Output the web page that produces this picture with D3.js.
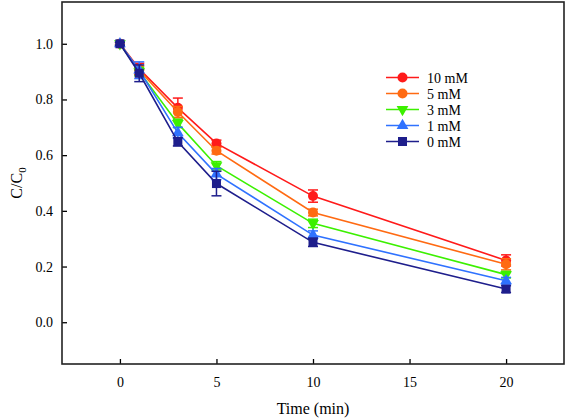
<!DOCTYPE html>
<html>
<head>
<meta charset="utf-8">
<script src="https://cdn.jsdelivr.net/npm/d3@7"></script>
<style>
  body { margin: 0; background: #fff; }
  svg { display: block; }
  text { font-family: "Liberation Serif", "Times New Roman", serif; fill: #000; }
</style>
</head>
<body>
<svg id="chart" width="567" height="420"></svg>
<script>
const times = [0, 1, 3, 5, 10, 20];
const seriesNames = ["10 mM", "5 mM", "3 mM", "1 mM", "0 mM"];
const seriesColors = ["#ff1a1a", "#ff6a12", "#3cf000", "#2f72ff", "#1e1e8c"];
const seriesMarkers = ["circle", "circle", "triangleDown", "triangleUp", "square"];
const values10 = [1.0, 0.91, 0.77, 0.642, 0.453, 0.222];
const values5  = [1.0, 0.905, 0.755, 0.616, 0.394, 0.208];
const values3  = [1.0, 0.90, 0.714, 0.562, 0.355, 0.171];
const values1  = [1.0, 0.905, 0.68, 0.532, 0.313, 0.149];
const values0  = [1.0, 0.894, 0.648, 0.498, 0.287, 0.119];
const err10 = [0.005, 0.02, 0.035, 0.012, 0.022, 0.02];
const err5  = [0.005, 0.015, 0.02, 0.012, 0.012, 0.02];
const err3  = [0.005, 0.015, 0.015, 0.015, 0.015, 0.012];
const err1  = [0.005, 0.03, 0.02, 0.02, 0.015, 0.012];
const err0  = [0.005, 0.03, 0.015, 0.044, 0.015, 0.012];
const xTicks = [0, 5, 10, 15, 20];
const yTicks = [0.0, 0.2, 0.4, 0.6, 0.8, 1.0];

const allValues = [values10, values5, values3, values1, values0];
const allErrs = [err10, err5, err3, err1, err0];

const svg = d3.select("#chart");
const L = 62, R = 564, T = 2, B = 364;
const x = d3.scaleLinear().domain([-3, 23]).range([L, R]);
const y = d3.scaleLinear().domain([-0.15, 1.15]).range([B, T]);

// axes (ticks inside)
const xAxis = d3.axisBottom(x).tickValues(xTicks).tickSize(-5).tickPadding(13).tickFormat(d3.format("d"));
const yAxis = d3.axisLeft(y).tickValues(yTicks).tickSize(-5).tickPadding(9).tickFormat(d3.format(".1f"));

const gx = svg.append("g").attr("transform", `translate(0,${B})`).call(xAxis);
const gy = svg.append("g").attr("transform", `translate(${L},0)`).call(yAxis);
[gx, gy].forEach(g => {
  g.select(".domain").remove();
  g.selectAll(".tick line").attr("stroke", "#000").attr("stroke-width", 1.3);
  g.selectAll(".tick text").style("font-size", "14px").style("font-family", "Liberation Serif");
});

// frame
svg.append("rect").attr("x", L).attr("y", T).attr("width", R - L).attr("height", B - T)
  .attr("fill", "none").attr("stroke", "#222").attr("stroke-width", 1.6);

// axis titles
svg.append("text").attr("x", (L + R) / 2).attr("y", 414).attr("text-anchor", "middle")
  .style("font-size", "16px").text("Time (min)");
const yl = svg.append("text").attr("transform", "translate(22,183) rotate(-90)")
  .attr("text-anchor", "middle").style("font-size", "16px");
yl.append("tspan").text("C/C");
yl.append("tspan").attr("font-size", "11px").attr("dy", "4").text("0");

function drawMarker(g, type, cx, cy, color) {
  if (type === "circle") {
    g.append("circle").attr("cx", cx).attr("cy", cy).attr("r", 5).attr("fill", color);
  } else if (type === "square") {
    g.append("rect").attr("x", cx - 4.5).attr("y", cy - 4.5).attr("width", 9).attr("height", 9).attr("fill", color);
  } else if (type === "triangleUp") {
    g.append("path").attr("d", d3.symbol(d3.symbolTriangle, 60)()).attr("transform", `translate(${cx},${cy})`).attr("fill", color);
  } else {
    g.append("path").attr("d", d3.symbol(d3.symbolTriangle, 60)()).attr("transform", `translate(${cx},${cy}) rotate(180)`).attr("fill", color);
  }
}

const line = d3.line().x((d, i) => x(times[i])).y(d => y(d));
const plot = svg.append("g");
seriesNames.forEach((name, s) => {
  const g = plot.append("g");
  const vals = allValues[s], errs = allErrs[s], c = seriesColors[s];
  g.append("path").attr("d", line(vals)).attr("fill", "none").attr("stroke", c).attr("stroke-width", 1.6);
  vals.forEach((v, i) => {
    const cx = x(times[i]);
    const y1 = y(v + errs[i]), y2 = y(v - errs[i]);
    g.append("line").attr("x1", cx).attr("x2", cx).attr("y1", y1).attr("y2", y2).attr("stroke", c).attr("stroke-width", 1.5);
    [y1, y2].forEach(yy => g.append("line").attr("x1", cx - 5).attr("x2", cx + 5).attr("y1", yy).attr("y2", yy).attr("stroke", c).attr("stroke-width", 1.5));
    drawMarker(g, seriesMarkers[s], cx, y(v), c);
  });
});

// legend
const lg = svg.append("g");
seriesNames.forEach((name, s) => {
  const yy = 77.5 + s * 16;
  const c = seriesColors[s];
  lg.append("line").attr("x1", 386).attr("x2", 419).attr("y1", yy).attr("y2", yy).attr("stroke", c).attr("stroke-width", 1.6);
  drawMarker(lg, seriesMarkers[s], 402.5, yy, c);
  lg.append("text").attr("x", 427).attr("y", yy + 5).style("font-size", "14px").text(name);
});
</script>
</body>
</html>
